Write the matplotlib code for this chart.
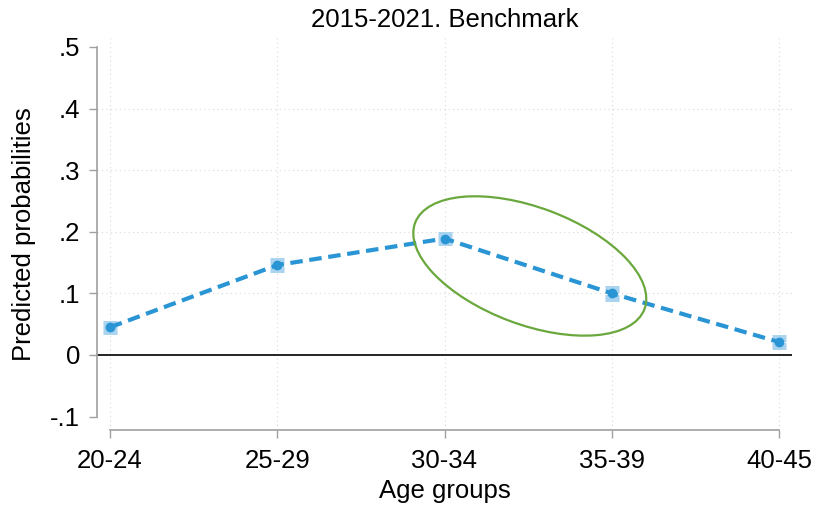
"""
plot.py
predicted probabilities by age group, 2015-2021 benchmark
"""
import numpy as np
import matplotlib
matplotlib.use("Agg")
import matplotlib.pyplot as plt
from matplotlib.patches import Ellipse
from matplotlib.transforms import ScaledTranslation

plt.rcParams['font.family'] = ['Liberation Sans', 'DejaVu Sans']

# data
groups = ['20-24', '25-29', '30-34', '35-39', '40-45']
prob = [0.045, 0.146, 0.189, 0.100, 0.021]
ci_low = [0.039, 0.140, 0.183, 0.093, 0.015]
ci_high = [0.051, 0.152, 0.195, 0.107, 0.028]
yticks = [-0.1, 0, 0.1, 0.2, 0.3, 0.4, 0.5]
ytick_labels = ['-.1', '0', '.1', '.2', '.3', '.4', '.5']

blue = '#2a95d4'
light = '#a9d3ef'
green = '#6aa83d'

fig = plt.figure(figsize=(8.35, 5.09), dpi=100)
ax = fig.add_axes([97/835, 1 - 430/509, (792 - 97)/835, (430 - 38)/509])

x = np.arange(len(groups))

# grid
for gy in yticks[2:-1]:
    ax.axhline(gy, color='#d9d9d9', lw=0.8, ls=(0, (1, 3)), zorder=0)
for gx in x:
    ax.axvline(gx, color='#d9d9d9', lw=0.8, ls=(0, (1, 3)), zorder=0)
ax.axhline(0, color='black', lw=1.2, zorder=1)

# confidence intervals
err = [np.array(prob) - np.array(ci_low), np.array(ci_high) - np.array(prob)]
eb = ax.errorbar(x, prob, yerr=err, fmt='none', ecolor=light, elinewidth=6,
                 capsize=5, capthick=5, zorder=2)
for c in eb[1]:
    c.set_markeredgewidth(5)
ax.plot(x, prob, color=blue, lw=3, ls=(0, (3, 1.6)), zorder=3)
ax.plot(x, prob, 'o', color=blue, ms=6, zorder=4)

# highlight ellipse around 30-34 to 35-39
ell = Ellipse((0, 0), width=2.45, height=1.17, angle=-20.6, fill=False,
              edgecolor=green, lw=1.6,
              transform=fig.dpi_scale_trans + ScaledTranslation(2.51, 0.1445, ax.transData),
              zorder=5)
ax.add_patch(ell)

ax.set_xlim(-0.078, 4.078)
ax.set_ylim(-0.1218, 0.5146)

for s in ['top', 'right']:
    ax.spines[s].set_visible(False)
ax.spines['left'].set_bounds(-0.1, 0.5)
ax.spines['bottom'].set_bounds(0, 4)
for s in ['left', 'bottom']:
    ax.spines[s].set_color('#a0a0a0')
    ax.spines[s].set_linewidth(1.2)

ax.set_xticks(x)
ax.set_xticklabels(groups, fontsize=18.5)
ax.set_yticks(yticks)
ax.set_yticklabels(ytick_labels, fontsize=18.5)
ax.tick_params(axis='both', colors='#a0a0a0', labelcolor='black', width=1, length=6)
ax.tick_params(axis='x', pad=8)
ax.tick_params(axis='y', pad=6)

ax.set_xlabel('Age groups', fontsize=18.5, labelpad=4)
ax.set_ylabel('Predicted probabilities', fontsize=18.5, labelpad=10)
ax.set_title('2015-2021. Benchmark', fontsize=18.5, pad=8)

fig.savefig('out.png', dpi=100)
